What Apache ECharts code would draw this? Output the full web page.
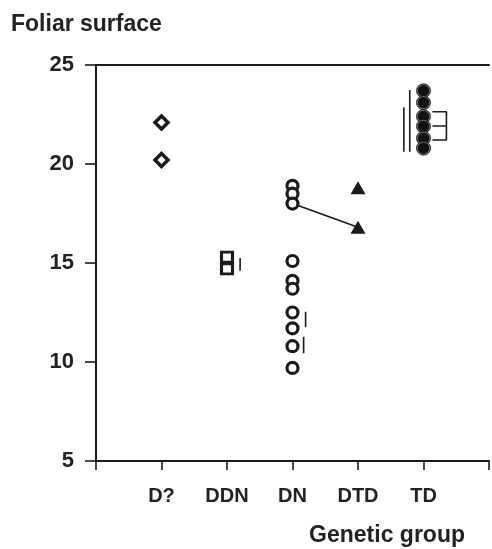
<!DOCTYPE html>
<html>
<head>
<meta charset="utf-8">
<script src="https://cdn.jsdelivr.net/npm/echarts@6/dist/echarts.min.js"></script>
<style>
html,body{margin:0;padding:0;background:#fff;}
#chart{width:492px;height:549px;}
</style>
</head>
<body>
<div id="chart"></div>
<script>
// ---- data ----
const categories = ['D?', 'DDN', 'DN', 'DTD', 'TD'];
const yAxisTitle = 'Foliar surface';
const xAxisTitle = 'Genetic group';
const yMin = 5, yMax = 25, yStep = 5;

const valuesDQ  = [22.1, 20.2];
const valuesDDN = [15.3, 14.7];
const valuesDN  = [18.9, 18.5, 18.0, 15.1, 14.1, 13.7, 12.5, 11.7, 10.8, 9.7];
const valuesDTD = [18.8, 16.8];
const valuesTD  = [23.7, 23.1, 22.4, 21.9, 21.3, 20.8];

// connecting line between DN and DTD (x = category position, y = value)
const linkPoints = [[3, 18.0], [4, 16.8]];

// annotation strokes (significance bars / bracket) in data units
const annotationSegments = [
  [[2.2, 15.25], [2.2, 14.61]],
  [[3.2, 12.54], [3.2, 11.75]],
  [[3.17, 11.28], [3.17, 10.44]],
  [[4.79, 23.74], [4.79, 20.62]],
  [[4.70, 22.86], [4.70, 20.62]],
  [[5.136, 22.64], [5.35, 22.64], [5.35, 21.21], [5.136, 21.21]],
  [[5.136, 21.92], [5.35, 21.92]]
];

// ---- chart ----
const ink = '#1a1a1a';
const font = 'Liberation Sans, Arial, sans-serif';

function pts(vals, idx) { return vals.map(v => [idx, v]); }

const series = [];
series.push({
  type: 'line', data: linkPoints, symbol: 'none', silent: true,
  lineStyle: { color: ink, width: 1.6 }, z: 2
});
annotationSegments.forEach(seg => series.push({
  type: 'line', data: seg, symbol: 'none', silent: true,
  lineStyle: { color: ink, width: 1.6 }, z: 2
}));
series.push({
  type: 'scatter', data: pts(valuesDQ, 1), symbol: 'diamond', symbolSize: [13, 13],
  itemStyle: { color: '#fff', borderColor: ink, borderWidth: 3.5, opacity: 1 }, z: 3
});
series.push({
  type: 'scatter', data: pts(valuesDDN, 2), symbol: 'rect', symbolSize: [11, 10],
  itemStyle: { color: '#fff', borderColor: ink, borderWidth: 3, opacity: 1 }, z: 3
});
series.push({
  type: 'scatter', data: pts(valuesDN, 3), symbol: 'circle', symbolSize: 11,
  itemStyle: { color: '#fff', borderColor: ink, borderWidth: 3.2, opacity: 1 }, z: 3
});
series.push({
  type: 'scatter', data: pts(valuesDTD, 4), symbol: 'triangle', symbolSize: [15, 13],
  itemStyle: { color: ink, opacity: 1 }, z: 3
});
series.push({
  type: 'scatter', data: pts(valuesTD, 5), symbol: 'circle', symbolSize: 14,
  itemStyle: {
    color: {
      type: 'radial', x: 0.5, y: 0.5, r: 0.5,
      colorStops: [{ offset: 0, color: '#111' }, { offset: 0.7, color: '#111' },
                   { offset: 0.82, color: '#777' }, { offset: 1, color: '#111' }]
    },
    borderColor: ink, borderWidth: 0.8, opacity: 1
  }, z: 3
});

const chart = echarts.init(document.getElementById('chart'), null, { renderer: 'canvas' });
chart.setOption({
  animation: false,
  backgroundColor: '#fff',
  grid: { left: 96, right: 1, top: 65, bottom: 88, containLabel: false },
  xAxis: [{
    type: 'value', min: 0, max: categories.length + 1, interval: 1,
    splitLine: { show: false },
    axisLine: { lineStyle: { color: ink, width: 2 } },
    axisTick: { show: true, inside: false, length: 9, lineStyle: { color: ink, width: 1.6 } },
    axisLabel: {
      margin: 25, color: '#222', fontSize: 20, fontWeight: 'bold', fontFamily: font,
      formatter: v => (v >= 1 && v <= categories.length) ? categories[v - 1] : ''
    }
  }, {
    type: 'value', position: 'top', min: 0, max: categories.length + 1,
    splitLine: { show: false },
    axisLine: { show: true, onZero: false, lineStyle: { color: ink, width: 2 } },
    axisTick: { show: false }, axisLabel: { show: false }
  }],
  yAxis: {
    type: 'value', min: yMin, max: yMax, interval: yStep,
    splitLine: { show: false },
    axisLine: { show: true, lineStyle: { color: ink, width: 2 } },
    axisTick: { show: true, inside: false, length: 11, lineStyle: { color: ink, width: 1.6 } },
    axisLabel: { margin: 22, color: '#222', fontSize: 22, fontWeight: 'bold', fontFamily: font }
  },
  graphic: [{
    type: 'text', left: 11, top: 13,
    style: { text: yAxisTitle, fill: '#222', font: 'bold 23px ' + font }
  }, {
    type: 'text', right: 27, top: 524,
    style: { text: xAxisTitle, fill: '#222', font: 'bold 23px ' + font }
  }],
  series: series
});
</script>
</body>
</html>
